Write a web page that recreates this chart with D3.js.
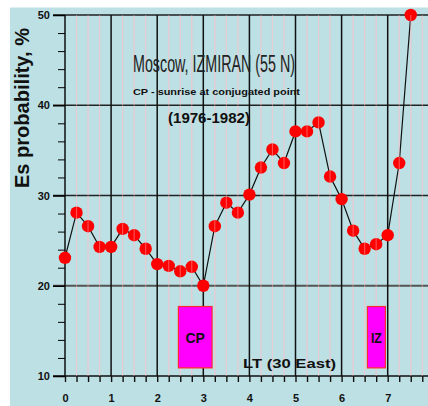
<!DOCTYPE html>
<meta charset="utf-8">
<style>
body {
    margin: 0;
    padding: 0;
    background: #fff;
}
text {
    font-family: 'Liberation Sans', Arial, sans-serif;
}
</style>
<body>
<svg width="428" height="406"></svg>

<script src="https://cdn.jsdelivr.net/npm/d3@7"></script>
<script>
// local time (hours) and Es probability (%)
var hours = [0, 0.25, 0.5, 0.75, 1, 1.25, 1.5, 1.75, 2, 2.25, 2.5, 2.75, 3, 3.25, 3.5, 3.75,
             4, 4.25, 4.5, 4.75, 5, 5.25, 5.5, 5.75, 6, 6.25, 6.5, 6.75, 7, 7.25, 7.5];
var probability = [23.1, 28.1, 26.6, 24.3, 24.3, 26.3, 25.6, 24.1, 22.4, 22.2, 21.6, 22.1, 20.0, 26.6, 29.2, 28.1,
                   30.1, 33.1, 35.1, 33.6, 37.1, 37.1, 38.1, 32.1, 29.6, 26.1, 24.1, 24.6, 25.6, 33.6, 50.0];

// sunrise boxes (CP = conjugated point, IZ = IZMIRAN)
var boxLabels = ["CP", "IZ"];
var boxStart = [2.46, 6.56];
var boxEnd = [3.19, 6.95];
var boxLow = 10.9, boxHigh = 17.7;

var xMajor = [0, 1, 2, 3, 4, 5, 6, 7];
var xMinor = [0.25, 0.5, 0.75, 1.25, 1.5, 1.75, 2.25, 2.5, 2.75, 3.25, 3.5, 3.75, 4.25, 4.5, 4.75,
              5.25, 5.5, 5.75, 6.25, 6.5, 6.75, 7.25, 7.5, 7.75];
var yMajor = [10, 20, 30, 40, 50];
var yMinor = [12, 14, 16, 18, 22, 24, 26, 28, 32, 34, 36, 38, 42, 44, 46, 48];

var svg = d3.select("svg");

var x = d3.scaleLinear().domain([0, 7]).range([65, 387.7]);
var y = d3.scaleLinear().domain([10, 50]).range([376, 15]);
var xLeft = 53, xRight = 428;

// blue backdrop
svg.append("rect")
    .attr("x", 10).attr("y", 7.5)
    .attr("width", 418).attr("height", 398.5)
    .attr("fill", "#bce0e3");

// pink minor verticals (behind the points)
svg.append("g").selectAll("line")
    .data(xMinor)
    .enter().append("line")
    .attr("x1", function(d) { return x(d); })
    .attr("x2", function(d) { return x(d); })
    .attr("y1", y(50)).attr("y2", y(10))
    .attr("stroke", "#d8cbd2")
    .attr("stroke-width", 1.3);

// horizontal grid
svg.append("g").selectAll("line")
    .data(yMajor)
    .enter().append("line")
    .attr("x1", xLeft).attr("x2", xRight)
    .attr("y1", function(d) { return y(d); })
    .attr("y2", function(d) { return y(d); })
    .attr("stroke", function(d) { return d == 20 ? "#555" : (d == 10 ? "#111" : "#222"); })
    .attr("stroke-width", function(d) { return d == 20 ? 2 : 1.5; });

// major verticals
svg.append("g").selectAll("line")
    .data(xMajor)
    .enter().append("line")
    .attr("x1", function(d) { return x(d); })
    .attr("x2", function(d) { return x(d); })
    .attr("y1", y(50)).attr("y2", y(10))
    .attr("stroke", "#111")
    .attr("stroke-width", 1.5);

// data line + points
var line = d3.line()
    .x(function(d, i) { return x(hours[i]); })
    .y(function(d) { return y(d); });

svg.append("path")
    .datum(probability)
    .attr("d", line)
    .attr("fill", "none")
    .attr("stroke", "#111")
    .attr("stroke-width", 1.2);

svg.append("g").selectAll("circle")
    .data(probability)
    .enter().append("circle")
    .attr("cx", function(d, i) { return x(hours[i]); })
    .attr("cy", function(d) { return y(d); })
    .attr("r", 6.2)
    .attr("fill", "#ff0000");

// faint pink stripes drawn over the points
svg.append("g").selectAll("line")
    .data(xMinor)
    .enter().append("line")
    .attr("x1", function(d) { return x(d); })
    .attr("x2", function(d) { return x(d); })
    .attr("y1", y(50)).attr("y2", y(10))
    .attr("stroke", "#ffd0d8")
    .attr("stroke-opacity", 0.4)
    .attr("stroke-width", 1.1);

// sunrise boxes
var boxes = svg.append("g").selectAll("g")
    .data(boxLabels)
    .enter().append("g");

boxes.append("rect")
    .attr("x", function(d, i) { return x(boxStart[i]); })
    .attr("y", y(boxHigh))
    .attr("width", function(d, i) { return x(boxEnd[i]) - x(boxStart[i]); })
    .attr("height", y(boxLow) - y(boxHigh))
    .attr("fill", "#ff00ff")
    .attr("stroke", "#ff2a2a")
    .attr("stroke-width", 1.2);

boxes.append("text")
    .attr("x", function(d, i) { return (x(boxStart[i]) + x(boxEnd[i])) / 2; })
    .attr("y", (y(boxLow) + y(boxHigh)) / 2 + 5.5)
    .attr("text-anchor", "middle")
    .attr("font-weight", "bold")
    .attr("font-size", function(d) { return d == "IZ" ? 15 : 14; })
    .attr("textLength", function(d) { return d == "IZ" ? 11 : null; })
    .attr("lengthAdjust", "spacingAndGlyphs")
    .attr("fill", "#111")
    .text(function(d) { return d; });

// axes
var yAxisMajor = d3.axisLeft(y).tickValues(yMajor).tickSize(12).tickPadding(3);
var yAxisMinor = d3.axisLeft(y).tickValues(yMinor).tickSize(7).tickFormat("");

svg.append("g")
    .attr("transform", "translate(" + x(0) + ",0)")
    .call(yAxisMinor)
    .call(function(g) { g.select(".domain").remove(); });

svg.append("g")
    .attr("transform", "translate(" + x(0) + ",0)")
    .call(yAxisMajor)
    .call(function(g) { g.select(".domain").remove(); })
    .call(function(g) {
        g.selectAll("line").attr("stroke-width", 1.5);
        g.selectAll("text").attr("font-size", 11).attr("font-weight", "bold")
            .attr("font-family", "'Liberation Sans', Arial, sans-serif").attr("fill", "#111");
    });

var xAxis = d3.axisBottom(x)
    .tickValues(xMajor.concat(xMinor))
    .tickSize(6)
    .tickPadding(12)
    .tickFormat(function(d) { return d % 1 == 0 ? d : ""; });

svg.append("g")
    .attr("transform", "translate(0," + y(10) + ")")
    .call(xAxis)
    .call(function(g) { g.select(".domain").remove(); })
    .call(function(g) {
        g.selectAll("line").attr("stroke-width", 1.4).attr("stroke", "#111");
        g.selectAll("text").attr("font-size", 11).attr("font-weight", "bold")
            .attr("font-family", "'Liberation Sans', Arial, sans-serif").attr("fill", "#111");
    });

// titles
svg.append("text")
    .attr("x", 133).attr("y", 71.5)
    .attr("font-size", 23)
    .attr("textLength", 162)
    .attr("lengthAdjust", "spacingAndGlyphs")
    .attr("fill", "#222")
    .text("Moscow, IZMIRAN (55 N)");

svg.append("text")
    .attr("x", 133).attr("y", 95)
    .attr("font-size", 9.5)
    .attr("font-weight", "bold")
    .attr("textLength", 167)
    .attr("lengthAdjust", "spacingAndGlyphs")
    .attr("fill", "#111")
    .text("CP - sunrise at conjugated point");

svg.append("text")
    .attr("x", 168).attr("y", 123)
    .attr("font-size", 14)
    .attr("font-weight", "bold")
    .attr("textLength", 82)
    .attr("lengthAdjust", "spacingAndGlyphs")
    .attr("fill", "#111")
    .text("(1976-1982)");

svg.append("text")
    .attr("x", 243).attr("y", 367.5)
    .attr("font-size", 13)
    .attr("font-weight", "bold")
    .attr("textLength", 93)
    .attr("lengthAdjust", "spacingAndGlyphs")
    .attr("fill", "#111")
    .text("LT (30 East)");

svg.append("text")
    .attr("transform", "translate(29,108) rotate(-90)")
    .attr("text-anchor", "middle")
    .attr("font-size", 20)
    .attr("font-weight", "bold")
    .attr("textLength", 160)
    .attr("lengthAdjust", "spacingAndGlyphs")
    .attr("fill", "#111")
    .text("Es probability, %");
</script>
</body>
